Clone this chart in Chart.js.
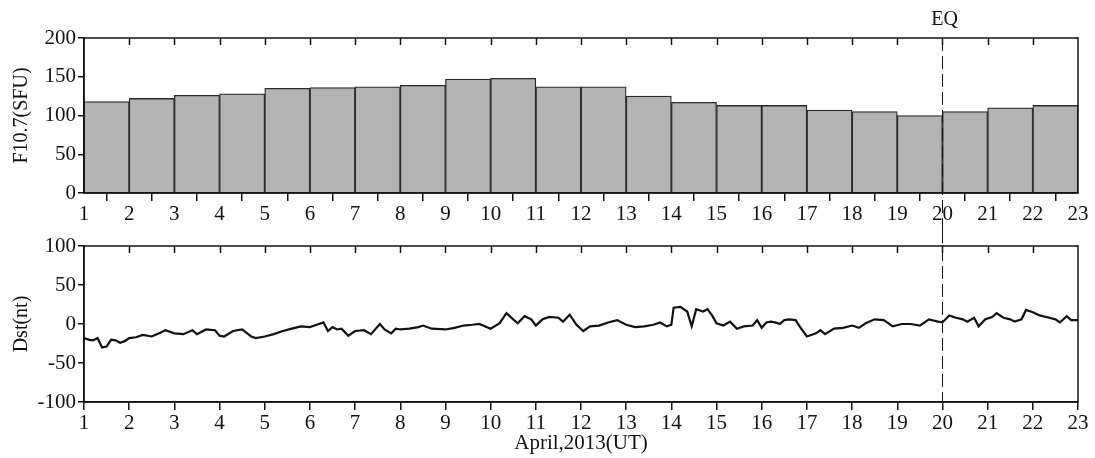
<!DOCTYPE html>
<html>
<head>
<meta charset="utf-8">
<script src="https://cdn.jsdelivr.net/npm/chart.js@4"></script>
<style>
  body { margin: 0; background: #fff; }
  canvas { display: block; }
</style>
</head>
<body>
<canvas id="f107-chart" width="1095" height="230"></canvas>
<canvas id="dst-chart" width="1095" height="228"></canvas>
<script>
// F10.7 daily values, one bar per day (day d spans d..d+1)
const f107Days = [1, 2, 3, 4, 5, 6, 7, 8, 9, 10, 11, 12, 13, 14, 15, 16, 17, 18, 19, 20, 21, 22];
const f107Values = [118, 122, 126, 128, 135, 136, 137, 139, 147, 148, 137, 137, 125, 117, 113, 113, 107, 105, 100, 105, 110, 113];

// Dst (day of April, nT)
const dstDay = [1.0, 1.1, 1.2, 1.3, 1.4, 1.5, 1.6, 1.7, 1.8, 1.9, 2.0, 2.15, 2.3, 2.5, 2.7, 2.8,
  3.0, 3.2, 3.4, 3.5, 3.7, 3.9, 4.0, 4.1, 4.3, 4.5, 4.7, 4.8, 5.0, 5.2, 5.4, 5.6, 5.8,
  6.0, 6.15, 6.3, 6.4, 6.5, 6.6, 6.7, 6.85, 7.0, 7.2, 7.35, 7.55, 7.65, 7.8, 7.9,
  8.0, 8.2, 8.4, 8.5, 8.7, 9.0, 9.2, 9.4, 9.6, 9.75, 10.0, 10.2, 10.35, 10.5, 10.6, 10.75, 10.9,
  11.0, 11.15, 11.3, 11.5, 11.6, 11.75, 11.9, 12.05, 12.2, 12.4, 12.6, 12.8, 13.0, 13.2, 13.4,
  13.6, 13.75, 13.9, 14.0, 14.05, 14.2, 14.35, 14.45, 14.55, 14.7, 14.8, 14.9, 15.0, 15.15,
  15.3, 15.45, 15.6, 15.8, 15.9, 16.0, 16.1, 16.2, 16.3, 16.4, 16.5, 16.6, 16.75, 16.85,
  17.0, 17.2, 17.3, 17.4, 17.6, 17.8, 18.0, 18.15, 18.3, 18.5, 18.7, 18.9, 19.1, 19.3, 19.5,
  19.7, 19.9, 20.0, 20.15, 20.3, 20.45, 20.55, 20.7, 20.8, 20.95, 21.1, 21.2, 21.35, 21.5,
  21.6, 21.75, 21.85, 22.0, 22.15, 22.3, 22.5, 22.6, 22.75, 22.85, 23.0];
const dstValue = [-18, -20, -21, -18, -30, -29, -20, -21, -24, -22, -18, -17, -14, -16, -11, -8,
  -12, -13, -8, -13, -7, -8, -15, -16, -9, -7, -16, -18, -16, -13, -9, -6, -3,
  -4, -1, 2, -9, -4, -7, -6, -15, -9, -8, -13, 0, -7, -12, -6,
  -7, -6, -4, -2, -6, -7, -5, -2, -1, 0, -6, 1, 14, 6, 1, 10, 6,
  -2, 6, 9, 8, 3, 12, -1, -9, -3, -2, 2, 5, -1, -4, -3,
  -1, 2, -3, -1, 21, 22, 16, -3, 19, 16, 19, 11, 1, -2,
  3, -6, -3, -2, 5, -5, 2, 3, 2, 0, 5, 6, 5, -4,
  -16, -12, -8, -13, -6, -5, -2, -5, 1, 6, 5, -3, 0, 0, -2,
  6, 3, 2, 11, 8, 6, 3, 8, -3, 6, 9, 14, 8, 6,
  3, 6, 18, 15, 11, 9, 6, 2, 10, 5, 5];

const eqDay = 20;
const eqLabel = 'EQ';
const xLabel = 'April,2013(UT)';

const serif = 'Liberation Serif';
const ink = '#111';

// box round the plot area, plus inward ticks along the top edge
const framePlugin = {
  id: 'frame',
  afterDatasetsDraw(chart) {
    const { ctx, chartArea: a, scales } = chart;
    ctx.save();
    ctx.strokeStyle = ink;
    ctx.lineWidth = 1.5;
    ctx.strokeRect(a.left, a.top, a.right - a.left, a.bottom - a.top);
    const ticks = scales.x.ticks;
    ticks.slice(1, ticks.length - 1).forEach(t => {
      const px = Math.round(scales.x.getPixelForValue(t.value)) + 0.5;
      ctx.beginPath();
      ctx.moveTo(px, a.top);
      ctx.lineTo(px, a.top + 7);
      ctx.stroke();
    });
    ctx.restore();
  }
};

// dashed EQ marker, optionally carried to the canvas edge so both panels join up
function eqLine(upToCanvasTop, downToCanvasBottom, withLabel) {
  return {
    id: 'eqLine',
    afterDatasetsDraw(chart) {
      const { ctx, chartArea: a, scales } = chart;
      const px = Math.round(scales.x.getPixelForValue(eqDay)) + 0.5;
      ctx.save();
      ctx.strokeStyle = ink;
      ctx.lineWidth = 1;
      ctx.setLineDash([13, 5]);
      ctx.beginPath();
      ctx.moveTo(px, upToCanvasTop ? 0 : a.top);
      ctx.lineTo(px, downToCanvasBottom ? chart.height : a.bottom);
      ctx.stroke();
      ctx.setLineDash([]);
      if (withLabel) {
        ctx.fillStyle = ink;
        ctx.font = '20px "' + serif + '"';
        ctx.textAlign = 'center';
        ctx.textBaseline = 'middle';
        ctx.fillText(eqLabel, px + 2, 20);
      }
      ctx.restore();
    }
  };
}

function xScale(height, title) {
  return {
    type: 'linear',
    min: 1,
    max: 23,
    offset: false,
    afterFit: s => { s.height = height; },
    grid: { drawOnChartArea: false, drawTicks: true, tickLength: 8, color: ink, lineWidth: 1.5 },
    border: { color: ink, width: 1.5 },
    ticks: {
      stepSize: 1, autoSkip: false, maxRotation: 0, padding: 1,
      color: ink, font: { family: serif, size: 21 }
    },
    title: title ? {
      display: true, text: title, color: ink,
      font: { family: serif, size: 21 }, padding: { top: 0, bottom: 2 }
    } : { display: false }
  };
}

function yScale(min, max, title) {
  return {
    min: min,
    max: max,
    afterFit: s => { s.width = 84; },
    grid: { drawOnChartArea: false, drawTicks: true, tickLength: 6, color: ink, lineWidth: 1.5 },
    border: { color: ink, width: 1.5 },
    ticks: { stepSize: 50, padding: 2, color: ink, font: { family: serif, size: 21 } },
    title: {
      display: true, text: title, color: ink,
      font: { family: serif, size: 20 }, padding: { top: 10, bottom: 0 }
    }
  };
}

Chart.defaults.animation = false;
Chart.defaults.plugins.legend.display = false;
Chart.defaults.plugins.tooltip.enabled = false;

new Chart(document.querySelector('#f107-chart').getContext('2d'), {
  type: 'bar',
  data: {
    datasets: [{
      data: f107Days.map((d, i) => ({ x: d + 0.5, y: f107Values[i] })),
      backgroundColor: '#b3b3b3',
      borderColor: '#2a2a2a',
      borderWidth: 1.3,
      barPercentage: 1,
      categoryPercentage: 1
    }]
  },
  options: {
    responsive: false,
    devicePixelRatio: 1,
    layout: { padding: { top: 38, right: 17, left: 0, bottom: 0 } },
    scales: {
      x: xScale(37, null),
      y: yScale(0, 200, 'F10.7(SFU)')
    }
  },
  plugins: [framePlugin, eqLine(false, true, true)]
});

new Chart(document.querySelector('#dst-chart').getContext('2d'), {
  type: 'line',
  data: {
    datasets: [{
      data: dstDay.map((d, i) => ({ x: d, y: dstValue[i] })),
      borderColor: ink,
      borderWidth: 2.2,
      pointRadius: 0,
      tension: 0
    }]
  },
  options: {
    responsive: false,
    devicePixelRatio: 1,
    layout: { padding: { top: 16, right: 17, left: 0, bottom: 0 } },
    scales: {
      x: xScale(56, xLabel),
      y: yScale(-100, 100, 'Dst(nt)')
    }
  },
  plugins: [framePlugin, eqLine(true, false, false)]
});
</script>
</body>
</html>
